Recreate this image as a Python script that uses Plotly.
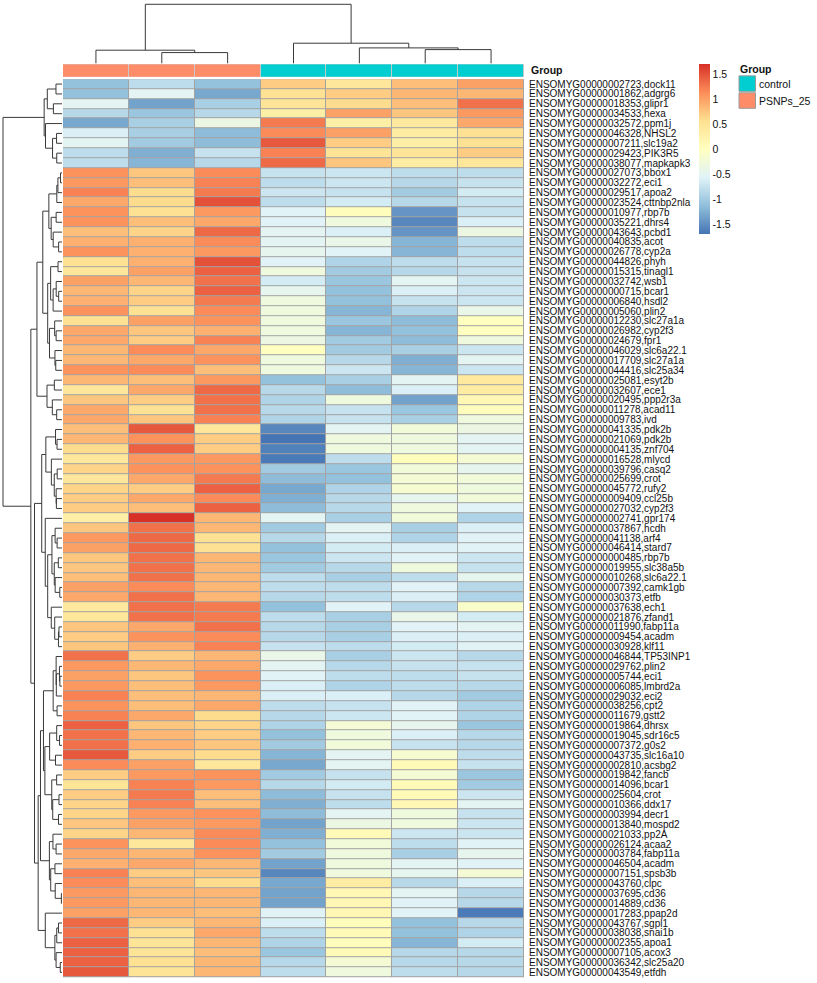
import numpy as np
import plotly.graph_objects as go

W, H = 817, 983

gene_ids = [
    "ENSOMYG00000002723", "ENSOMYG00000001862", "ENSOMYG00000018353", "ENSOMYG00000034533",
    "ENSOMYG00000032572", "ENSOMYG00000046328", "ENSOMYG00000007211", "ENSOMYG00000029423",
    "ENSOMYG00000038077", "ENSOMYG00000027073", "ENSOMYG00000032272", "ENSOMYG00000029517",
    "ENSOMYG00000023524", "ENSOMYG00000010977", "ENSOMYG00000035221", "ENSOMYG00000043643",
    "ENSOMYG00000040835", "ENSOMYG00000026778", "ENSOMYG00000044826", "ENSOMYG00000015315",
    "ENSOMYG00000032742", "ENSOMYG00000000715", "ENSOMYG00000006840", "ENSOMYG00000005060",
    "ENSOMYG00000012230", "ENSOMYG00000026982", "ENSOMYG00000024679", "ENSOMYG00000046029",
    "ENSOMYG00000017709", "ENSOMYG00000044416", "ENSOMYG00000025081", "ENSOMYG00000032607",
    "ENSOMYG00000020495", "ENSOMYG00000011278", "ENSOMYG00000009783", "ENSOMYG00000041335",
    "ENSOMYG00000021069", "ENSOMYG00000004135", "ENSOMYG00000016528", "ENSOMYG00000039796",
    "ENSOMYG00000025699", "ENSOMYG00000045772", "ENSOMYG00000009409", "ENSOMYG00000027032",
    "ENSOMYG00000002741", "ENSOMYG00000037867", "ENSOMYG00000041138", "ENSOMYG00000046414",
    "ENSOMYG00000000485", "ENSOMYG00000019955", "ENSOMYG00000010268", "ENSOMYG00000007392",
    "ENSOMYG00000030373", "ENSOMYG00000037638", "ENSOMYG00000021876", "ENSOMYG00000011990",
    "ENSOMYG00000009454", "ENSOMYG00000030928", "ENSOMYG00000046844", "ENSOMYG00000029762",
    "ENSOMYG00000005744", "ENSOMYG00000006085", "ENSOMYG00000029032", "ENSOMYG00000038256",
    "ENSOMYG00000011679", "ENSOMYG00000019864", "ENSOMYG00000019045", "ENSOMYG00000007372",
    "ENSOMYG00000043735", "ENSOMYG00000002810", "ENSOMYG00000019842", "ENSOMYG00000014096",
    "ENSOMYG00000025604", "ENSOMYG00000010366", "ENSOMYG00000003994", "ENSOMYG00000013840",
    "ENSOMYG00000021033", "ENSOMYG00000026124", "ENSOMYG00000003784", "ENSOMYG00000046504",
    "ENSOMYG00000007151", "ENSOMYG00000043760", "ENSOMYG00000037695", "ENSOMYG00000014889",
    "ENSOMYG00000017283", "ENSOMYG00000043767", "ENSOMYG00000038038", "ENSOMYG00000002355",
    "ENSOMYG00000007105", "ENSOMYG00000036342", "ENSOMYG00000043549",
]
gene_names = [
    "dock11", "adgrg6", "glipr1", "hexa", "ppm1j", "NHSL2", "slc19a2", "PIK3R5", "mapkapk3",
    "bbox1", "eci1", "apoa2", "cttnbp2nla", "rbp7b", "dhrs4", "pcbd1", "acot", "cyp2a", "phyh",
    "tinagl1", "wsb1", "bcar1", "hsdl2", "plin2", "slc27a1a", "cyp2f3", "fpr1", "slc6a22.1",
    "slc27a1a", "slc25a34", "esyt2b", "ece1", "ppp2r3a", "acad11", "ivd", "pdk2b", "pdk2b",
    "znf704", "mlycd", "casq2", "crot", "rufy2", "ccl25b", "cyp2f3", "gpr174", "hcdh", "arf4",
    "stard7", "rbp7b", "slc38a5b", "slc6a22.1", "camk1gb", "etfb", "ech1", "zfand1", "fabp11a",
    "acadm", "klf11", "TP53INP1", "plin2", "eci1", "lmbrd2a", "eci2", "cpt2", "gstt2", "dhrsx",
    "sdr16c5", "g0s2", "slc16a10", "acsbg2", "fancb", "bcar1", "crot", "ddx17", "decr1",
    "mospd2", "pp2A", "acaa2", "fabp11a", "acadm", "spsb3b", "clpc", "cd36", "cd36", "ppap2d",
    "sgpl1", "snai1b", "apoa1", "acox3", "slc25a20", "etfdh",
]

# row-scaled expression (z-scores) per sample, rows in displayed order
psnps_1 = [
    -1.1, -1.1, -0.5, -0.85, -1.3, -0.6, -0.5, -0.8, -0.8, 1.1,
    1.05, 1.2, 0.95, 1.1, 1.1, 0.8, 0.9, 1.1, 0.55, 0.45,
    1.0, 0.85, 0.9, 1.1, 0.55, 0.95, 0.95, 0.85, 0.85, 1.1,
    0.85, 0.45, 0.75, 0.95, 0.95, 0.8, 0.85, 0.6, 0.45, 0.65,
    0.45, 0.65, 0.7, 0.7, 0.3, 0.75, 1.05, 1.0, 0.75, 0.75,
    0.8, 1.0, 0.95, 0.4, 0.45, 0.75, 0.7, 0.75, 1.3, 1.05,
    1.0, 1.05, 1.2, 1.1, 1.2, 1.4, 1.3, 1.3, 1.45, 1.15,
    0.7, 0.5, 0.7, 0.65, 0.65, 0.75, 0.65, 1.1, 0.95, 0.9,
    1.2, 1.15, 1.05, 1.05, 1.0, 1.35, 1.3, 1.4, 1.4, 1.4, 1.45,
]
psnps_2 = [
    -0.8, -0.5, -1.35, -1.05, -0.95, -0.95, -1.0, -1.25, -1.2, 0.75,
    0.8, 0.6, 0.6, 0.55, 0.8, 0.65, 0.9, 0.9, 0.9, 1.0,
    0.85, 0.65, 0.7, 0.55, 1.0, 0.75, 0.7, 1.15, 0.95, 1.15,
    0.8, 0.95, 0.7, 0.55, 0.75, 1.45, 1.1, 1.4, 1.05, 1.1,
    0.95, 0.7, 0.95, 0.8, 1.7, 1.3, 1.35, 1.35, 1.3, 1.3,
    1.3, 1.15, 1.3, 1.3, 1.3, 0.95, 1.1, 0.9, 0.7, 0.85,
    0.75, 0.8, 0.8, 0.8, 0.95, 0.75, 0.85, 0.9, 0.7, 1.0,
    1.05, 1.2, 1.25, 1.2, 1.05, 1.0, 0.85, 0.45, 0.85, 0.95,
    0.7, 0.8, 0.85, 0.85, 0.85, 0.7, 0.55, 0.5, 0.5, 0.55, 0.5,
]
psnps_3 = [
    -1.1, -1.3, -0.95, -0.85, -0.35, -1.15, -1.15, -0.75, -0.85, 1.15,
    1.2, 1.25, 1.5, 1.05, 0.95, 1.35, 1.15, 1.05, 1.5, 1.4,
    1.3, 1.4, 1.25, 1.15, 1.1, 0.9, 1.2, 0.95, 1.1, 0.8,
    1.05, 1.35, 1.3, 1.3, 1.2, 0.45, 0.7, 0.7, 1.05, 1.1,
    1.25, 1.4, 1.15, 1.4, 0.85, 0.85, 0.55, 0.55, 0.85, 0.85,
    0.85, 0.85, 0.85, 1.25, 1.25, 1.3, 1.15, 1.2, 0.85, 0.95,
    1.1, 1.05, 0.85, 0.95, 0.6, 0.65, 0.7, 0.75, 0.6, 0.45,
    1.1, 1.05, 0.8, 0.8, 1.1, 1.05, 1.15, 1.15, 1.1, 0.85,
    0.75, 0.6, 0.85, 0.85, 0.8, 0.85, 0.95, 0.85, 0.8, 0.85, 0.85,
]
ctrl_1 = [
    0.7, 0.55, 0.5, 0.3, 1.25, 1.15, 1.45, 1.2, 1.35, -0.75,
    -0.8, -0.7, -0.8, -0.55, -0.55, -0.5, -0.5, -0.45, -0.55, -0.3,
    -0.65, -0.45, -0.3, -0.3, -0.3, -0.3, -0.35, 0.0, -0.3, -0.3,
    -1.1, -0.85, -0.9, -0.85, -0.9, -1.55, -1.7, -1.6, -1.65, -1.0,
    -1.15, -1.3, -1.25, -1.15, -0.5, -1.0, -0.85, -1.1, -1.05, -1.0,
    -0.8, -0.8, -0.85, -1.1, -0.8, -0.85, -0.85, -0.75, -0.4, -0.5,
    -0.55, -0.6, -0.6, -0.8, -0.85, -0.9, -1.1, -1.0, -1.2, -1.3,
    -1.0, -0.85, -1.15, -1.25, -1.15, -1.35, -1.25, -1.1, -1.0, -1.35,
    -1.55, -1.3, -1.35, -1.35, -0.55, -0.6, -0.8, -0.9, -1.05, -0.85, -0.8,
]
ctrl_2 = [
    0.45, 0.7, 0.6, 1.0, 0.3, 1.0, 0.7, 0.5, 0.75, -0.7,
    -0.7, -0.75, -0.65, 0.05, -0.3, -0.6, -0.4, -0.55, -0.9, -1.0,
    -1.05, -1.1, -1.1, -1.2, -1.05, -1.2, -1.0, -1.0, -0.85, -0.7,
    -0.95, -1.15, -0.3, -0.75, -0.75, -0.5, -0.3, -0.3, -0.8, -1.05,
    -1.1, -0.9, -0.85, -0.85, -0.95, -0.5, -0.6, -0.65, -0.7, -0.85,
    -0.95, -0.8, -0.8, -0.55, -0.95, -0.95, -0.95, -0.8, -0.95, -0.85,
    -0.8, -0.9, -0.6, -0.75, -0.7, -0.2, -0.3, -0.25, -0.5, -0.5,
    -0.75, -0.65, -0.75, -0.8, -0.5, -0.35, 0.1, -0.25, -0.3, -0.3,
    -0.3, 0.35, 0.15, 0.15, 0.15, 0.05, 0.1, 0.05, 0.1, -0.2, -0.3,
]
ctrl_3 = [
    0.8, 0.85, 0.8, 0.75, 0.4, 0.35, 0.3, 0.5, 0.35, -0.8,
    -0.85, -1.0, -0.85, -1.45, -1.55, -1.45, -1.2, -1.2, -0.8, -0.85,
    -0.5, -0.6, -0.75, -0.9, -1.15, -1.1, -1.15, -0.95, -1.25, -1.2,
    -0.5, -0.6, -1.35, -1.05, -0.95, -0.25, -0.3, -0.3, 0.05, -0.25,
    -0.2, -0.15, -0.45, -0.3, -0.25, -0.95, -0.9, -0.6, -0.55, -0.3,
    -0.8, -0.55, -0.6, -0.85, -0.4, -0.55, -0.6, -0.65, -0.7, -0.75,
    -0.8, -0.8, -0.85, -0.55, -0.55, -0.45, -0.6, -0.75, -0.15, 0.1,
    -0.2, 0.1, 0.1, 0.15, -0.3, -0.3, -0.7, -0.8, -0.95, -0.5,
    -0.45, -0.85, -0.5, -0.55, -0.55, -1.1, -1.1, -1.2, -0.85, -0.85, -0.8,
]
ctrl_4 = [
    1.0, 0.85, 1.3, 1.05, 0.95, 0.55, 0.55, 0.7, 0.45, -0.8,
    -0.75, -0.65, -0.75, -0.75, -0.6, -0.35, -0.8, -0.8, -0.75, -0.75,
    -0.7, -0.7, -0.7, -0.4, 0.0, 0.0, -0.3, -0.7, -0.5, -0.7,
    0.4, 0.35, 0.15, 0.05, -0.3, -0.35, -0.5, -0.5, -0.2, -0.45,
    -0.25, -0.3, -0.25, -0.55, -0.9, -0.6, -0.55, -0.55, -0.7, -0.75,
    -0.45, -0.85, -0.9, -0.1, -0.65, -0.5, -0.6, -0.55, -0.85, -0.75,
    -0.75, -0.85, -1.0, -0.9, -0.9, -1.05, -0.85, -0.85, -0.8, -0.75,
    -1.05, -1.0, -0.7, -0.5, -0.75, -0.7, -0.7, -0.55, -0.45, -0.55,
    -0.2, -0.6, -0.85, -0.85, -1.65, -0.85, -0.9, -0.65, -0.85, -0.85, -0.85,
]
sample_groups = ["PSNPs_25", "PSNPs_25", "PSNPs_25", "control", "control", "control", "control"]
group_names = ["control", "PSNPs_25"]
group_colors = {"control": "#00CED1", "PSNPs_25": "#FF8C69"}

# column dendrogram: (left node, right node, merge height)
col_merges = [(1, 2, 11.0), (5, 6, 14.0), (4, 8, 15.7), (0, 7, 13.4), (3, 9, 20.4), (10, 11, 59.4)]

colorbar_ticks = [-1.5, -1, -0.5, 0, 0.5, 1, 1.5]
colorbar_labels = ["-1.5", "-1", "-0.5", "0", "0.5", "1", "1.5"]
z_min, z_max = -1.69, 1.70
rdylbu_rev = ["#4575B4", "#91BFDB", "#E0F3F8", "#FFFFBF", "#FEE090", "#FC8D59", "#D73027"]

# ---------------------------------------------------------------------------
M = np.array([psnps_1, psnps_2, psnps_3, ctrl_1, ctrl_2, ctrl_3, ctrl_4]).T
n_rows, n_cols = M.shape
row_labels = [f"{a},{b}" for a, b in zip(gene_ids, gene_names)]


def order_constrained_complete_linkage(X):
    D = np.sqrt(((X[:, None, :] - X[None, :, :]) ** 2).sum(-1))
    n = len(X)
    clusters = [(i, i, i) for i in range(n)]
    merges = []
    nid = n
    while len(clusters) > 1:
        best = None
        for k in range(len(clusters) - 1):
            a, b = clusters[k], clusters[k + 1]
            d = D[a[0]:a[1] + 1, b[0]:b[1] + 1].max()
            if best is None or d < best[0]:
                best = (d, k)
        d, k = best
        a, b = clusters[k], clusters[k + 1]
        merges.append((a[2], b[2], float(d)))
        clusters[k:k + 2] = [(a[0], b[1], nid)]
        nid += 1
    return merges


def dendro_segments(merges, n):
    pos = {i: float(i) for i in range(n)}
    hgt = {i: 0.0 for i in range(n)}
    P, Hh = [], []
    for j, (a, b, h) in enumerate(merges):
        P += [pos[a], pos[a], pos[b], pos[b], None]
        Hh += [hgt[a], h, h, hgt[b], None]
        pos[n + j] = (pos[a] + pos[b]) / 2
        hgt[n + j] = h
    return P, Hh


row_merges = order_constrained_complete_linkage(M)
row_root = max(h for _, _, h in row_merges)
rp, rh = dendro_segments(row_merges, n_rows)
cp, ch = dendro_segments(col_merges, n_cols)


def fx(px):
    return px / W


def fy(py):
    return 1 - py / H


HM_X0, HM_X1 = 63, 524
HM_Y0, HM_Y1 = 78.3, 978.3
AN_Y0, AN_Y1 = 63.3, 76.0
CD_Y1 = 62.7
RD_X1 = 62.0

colorscale = [[i / 6, c] for i, c in enumerate(rdylbu_rev)]
txt_font = "Liberation Sans, Arial, sans-serif"

fig = go.Figure()

fig.add_trace(go.Heatmap(
    z=M, x=list(range(n_cols)), y=list(range(n_rows)),
    zmin=z_min, zmax=z_max, colorscale=colorscale, xgap=1, ygap=1,
    xaxis="x", yaxis="y",
    colorbar=dict(
        x=fx(699), xanchor="left", y=fy(63.3), yanchor="top",
        len=170 / H, lenmode="fraction", thickness=11, thicknessmode="pixels",
        tickvals=colorbar_ticks, ticktext=colorbar_labels,
        tickfont=dict(size=10.5, color="#111", family=txt_font),
        outlinewidth=0, ticks="", xpad=0, ypad=0,
    ),
))

grp_code = [[group_names.index(g) for g in sample_groups]]
fig.add_trace(go.Heatmap(
    z=grp_code, x=list(range(n_cols)), y=[0], zmin=0, zmax=1,
    colorscale=[[0, group_colors["control"]], [0.5, group_colors["control"]],
                [0.5, group_colors["PSNPs_25"]], [1, group_colors["PSNPs_25"]]],
    showscale=False, xgap=1, xaxis="x2", yaxis="y2", hoverinfo="skip",
))

fig.add_trace(go.Scatter(x=cp, y=ch, mode="lines", line=dict(color="#3a3a3a", width=1),
                         xaxis="x3", yaxis="y3", hoverinfo="skip", showlegend=False))
fig.add_trace(go.Scatter(x=rh, y=rp, mode="lines", line=dict(color="#3a3a3a", width=1),
                         xaxis="x4", yaxis="y4", hoverinfo="skip", showlegend=False))

hidden = dict(visible=False, showgrid=False, zeroline=False, fixedrange=True)
fig.update_layout(
    width=W, height=H, autosize=False,
    margin=dict(l=0, r=0, t=0, b=0, pad=0),
    paper_bgcolor="white", plot_bgcolor="white",
    showlegend=False,
    font=dict(family=txt_font, color="#111"),
    xaxis=dict(domain=[fx(HM_X0), fx(HM_X1)], range=[-0.5, n_cols - 0.5], **hidden),
    yaxis=dict(domain=[fy(HM_Y1), fy(HM_Y0)], range=[n_rows - 0.5, -0.5], side="right",
               tickvals=list(range(n_rows)), ticktext=row_labels, ticks="",
               showgrid=False, zeroline=False, showline=False, fixedrange=True,
               tickfont=dict(size=10, color="#111", family=txt_font),
               ticklabelstandoff=4),
    xaxis2=dict(domain=[fx(HM_X0), fx(HM_X1)], range=[-0.5, n_cols - 0.5], anchor="y2", **hidden),
    yaxis2=dict(domain=[fy(AN_Y1), fy(AN_Y0)], range=[-0.5, 0.5], anchor="x2", **hidden),
    xaxis3=dict(domain=[fx(HM_X0), fx(HM_X1)], range=[-0.5, n_cols - 0.5], anchor="y3", **hidden),
    yaxis3=dict(domain=[fy(CD_Y1), 1], range=[0, CD_Y1], anchor="x3", **hidden),
    xaxis4=dict(domain=[0, fx(RD_X1)], range=[row_root * RD_X1 / (RD_X1 - 3), 0], anchor="y4", **hidden),
    yaxis4=dict(domain=[fy(HM_Y1), fy(HM_Y0)], range=[n_rows - 0.5, -0.5], anchor="x4", **hidden),
)

shapes = [
    dict(type="rect", xref="x", yref="y", x0=-0.5, x1=n_cols - 0.5, y0=-0.5, y1=n_rows - 0.5,
         fillcolor="#a3a3a3", line=dict(color="#a3a3a3", width=1), layer="below"),
    dict(type="rect", xref="x2", yref="y2", x0=-0.5, x1=n_cols - 0.5, y0=-0.5, y1=0.5,
         fillcolor="#c8c8c8", line=dict(color="#c8c8c8", width=1), layer="below"),
]
annotations = [
    dict(text="<b>Group</b>", x=fx(529), y=fy(69.5), xref="paper", yref="paper",
         xanchor="left", yanchor="middle", showarrow=False, font=dict(size=10.5, color="#111")),
    dict(text="<b>Group</b>", x=fx(738), y=fy(68), xref="paper", yref="paper",
         xanchor="left", yanchor="middle", showarrow=False, font=dict(size=10.5, color="#111")),
]
for i, g in enumerate(group_names):
    top = 75 + i * 17
    shapes.append(dict(type="rect", xref="paper", yref="paper", x0=fx(739), x1=fx(755.5),
                       y0=fy(top + 15.5), y1=fy(top), fillcolor=group_colors[g],
                       line=dict(color="#9a9a9a", width=1)))
    annotations.append(dict(text=g, x=fx(757), y=fy(top + 8), xref="paper", yref="paper",
                            xanchor="left", yanchor="middle", showarrow=False,
                            font=dict(size=10.5, color="#111")))
fig.update_layout(shapes=shapes, annotations=annotations)

fig.write_html("out.html", config={"displayModeBar": False},
               post_script="document.body.style.margin='0';document.body.style.overflow='hidden';")
